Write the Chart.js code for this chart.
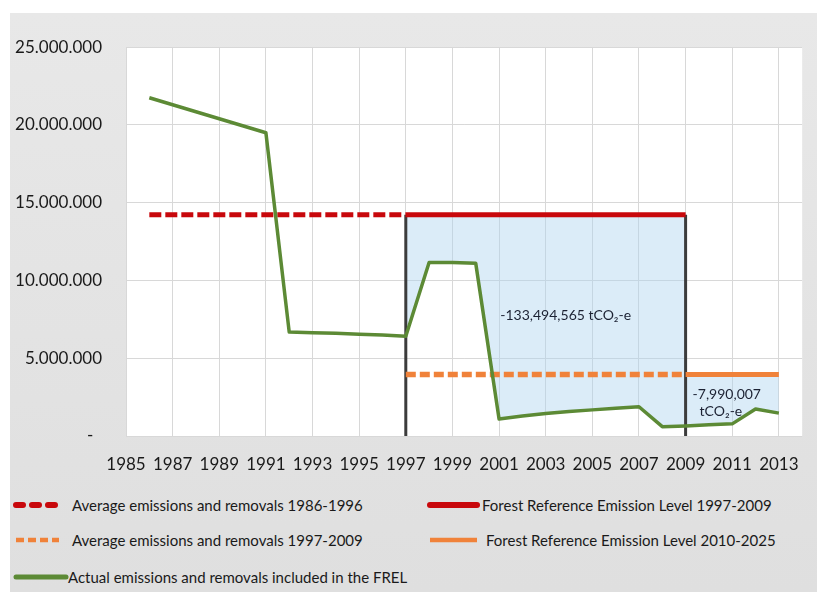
<!DOCTYPE html>
<html>
<head>
<meta charset="utf-8">
<script src="https://cdn.jsdelivr.net/npm/chart.js@4/dist/chart.umd.min.js"></script>
<style>
body { margin: 0; background: #fff; width: 817px; height: 592px; overflow: hidden; font-family: Lato, sans-serif; }
.panel { position: absolute; left: 10px; top: 13px; width: 807px; height: 579px; background: linear-gradient(#e8e8e8, #dfdfdf); }
.wrap { position: absolute; left: 0; top: 0; width: 807px; height: 470px; }
.lg { position: absolute; font-size: 15px; color: #1a1a1a; white-space: nowrap; line-height: 18px; }
.mk { position: absolute; }
</style>
</head>
<body>
<div class="panel" id="panel">
  <div class="wrap"><canvas id="chart"></canvas></div>
</div>
<script>
// data
const years = [1986, 1987, 1988, 1989, 1990, 1991, 1992, 1993, 1994, 1995, 1996, 1997, 1998, 1999,
  2000, 2001, 2002, 2003, 2004, 2005, 2006, 2007, 2008, 2009, 2010, 2011, 2012, 2013]
const actual = [21750000, 21300000, 20850000, 20400000, 19950000, 19500000, 6680000, 6640000, 6600000,
  6550000, 6500000, 6420000, 11150000, 11150000, 11100000, 1100000, 1280000, 1450000, 1570000,
  1680000, 1780000, 1880000, 600000, 650000, 720000, 780000, 1730000, 1470000]
const avg8696 = 14220000
const frel9709 = 14220000
const avg9709 = 3960000
const frel1025 = 3960000
const xTicks = [1985, 1987, 1989, 1991, 1993, 1995, 1997, 1999, 2001, 2003, 2005, 2007, 2009, 2011, 2013]
const seriesNames = [
  'Average emissions and removals 1986-1996',
  'Forest Reference Emission Level 1997-2009',
  'Average emissions and removals 1997-2009',
  'Forest Reference Emission Level 2010-2025',
  'Actual emissions and removals included in the FREL'
]
const notes = [
  { x: 2001.05, y: 7760000, text: '-133,494,565 tCO\u2082-e' },
  { x: 2009.3, y: 2650000, text: '-7,990,007' },
  { x: 2009.6, y: 1550000, text: 'tCO\u2082-e' }
]

const pts = (from, to) => years.map((yr, i) => ({ x: yr, y: actual[i] })).filter(p => p.x >= from && p.x <= to)
const flat = (x1, x2, v) => [{ x: x1, y: v }, { x: x2, y: v }]

const RED = '#c8080c'
const ORANGE = '#f0823a'
const GREEN = '#5c8a35'
const FILL = 'rgba(175, 212, 240, 0.45)'

const fmt = v => v === 0 ? '-  ' : String(v).replace(/\B(?=(\d{3})+(?!\d))/g, '.')

const bgPlugin = {
  id: 'bg',
  beforeDraw(c) {
    const a = c.chartArea
    c.ctx.save()
    c.ctx.fillStyle = '#fff'
    c.ctx.fillRect(a.left, a.top, a.right - a.left, a.bottom - a.top)
    c.ctx.restore()
  }
}
const notePlugin = {
  id: 'notes',
  afterDatasetsDraw(c) {
    const ctx = c.ctx
    ctx.save()
    ctx.font = '14px Lato'
    ctx.fillStyle = '#1c2233'
    ctx.textBaseline = 'middle'
    notes.forEach(n => {
      ctx.fillText(n.text, c.scales.x.getPixelForValue(n.x), c.scales.y.getPixelForValue(n.y))
    })
    ctx.restore()
  }
}

Chart.defaults.font.family = 'Lato'
Chart.defaults.color = '#1a1a1a'

new Chart(document.getElementById('chart'), {
  type: 'line',
  data: {
    datasets: [
      { label: 'fill1', data: pts(1997, 2009), borderWidth: 0, backgroundColor: FILL, fill: { value: frel9709 }, order: 20 },
      { label: 'fill2', data: pts(2009, 2013), borderWidth: 0, backgroundColor: FILL, fill: { value: frel1025 }, order: 20 },
      { label: 'v1997', data: [{ x: 1997, y: 0 }, { x: 1997, y: frel9709 }], borderColor: '#3c3c3c', borderWidth: 3, order: 10 },
      { label: 'v2009', data: [{ x: 2009, y: 0 }, { x: 2009, y: frel9709 }], borderColor: '#3c3c3c', borderWidth: 3, order: 10 },
      { label: seriesNames[0], data: flat(1986, 1997, avg8696), borderColor: RED, borderWidth: 5, borderDash: [12, 4], order: 4 },
      { label: seriesNames[1], data: flat(1997, 2009, frel9709), borderColor: RED, borderWidth: 5, order: 4 },
      { label: seriesNames[2], data: flat(1997, 2009, avg9709), borderColor: ORANGE, borderWidth: 5.5, borderDash: [10, 4], order: 3 },
      { label: seriesNames[3], data: flat(2009, 2013, frel1025), borderColor: ORANGE, borderWidth: 5, order: 3 },
      { label: seriesNames[4], data: pts(1986, 2013), borderColor: GREEN, borderWidth: 3.5, order: 1 }
    ]
  },
  options: {
    responsive: true, maintainAspectRatio: false, animation: false,
    elements: { point: { radius: 0 }, line: { tension: 0, fill: false, borderJoinStyle: 'round' } },
    layout: { padding: { top: 34, right: 12, left: 0, bottom: 0 } },
    plugins: { legend: { display: false }, tooltip: { enabled: false } },
    scales: {
      x: {
        type: 'linear', min: 1985, max: 2014,
        afterBuildTicks: s => { s.ticks = xTicks.map(v => ({ value: v })) },
        afterFit: s => { s.height = 47 },
        grid: { color: '#d8d8d8', drawTicks: false },
        border: { display: false },
        ticks: { autoSkip: false, maxRotation: 0, padding: 18, font: { size: 17 }, callback: v => String(v) }
      },
      y: {
        min: 0, max: 25000000,
        afterFit: s => { s.width = 116 },
        grid: { color: '#d8d8d8', drawTicks: false },
        border: { display: false },
        ticks: { stepSize: 5000000, padding: 24, font: { size: 17 }, callback: v => fmt(v) }
      }
    }
  },
  plugins: [bgPlugin, notePlugin]
})

// legend, built as html
const legendLook = [
  { color: RED, dash: '7 9', width: 6, cap: 'round', mx: 2, mw: 50, tx: 62, y: 492 },
  { color: RED, dash: '', width: 6, cap: 'round', mx: 416, mw: 54, tx: 472, y: 492 },
  { color: ORANGE, dash: '8 4', width: 4.5, cap: 'butt', mx: 2, mw: 50, tx: 62, y: 527 },
  { color: ORANGE, dash: '', width: 4.5, cap: 'butt', mx: 416, mw: 54, tx: 476, y: 527 },
  { color: GREEN, dash: '', width: 5, cap: 'round', mx: 2, mw: 57, tx: 58, y: 564 }
]
const panel = document.getElementById('panel')
seriesNames.forEach((name, i) => {
  const l = legendLook[i]
  const mk = document.createElementNS('http://www.w3.org/2000/svg', 'svg')
  mk.setAttribute('class', 'mk')
  mk.setAttribute('width', l.mw)
  mk.setAttribute('height', 10)
  mk.style.left = l.mx + 'px'
  mk.style.top = (l.y - 5) + 'px'
  mk.innerHTML = '<line x1="4" y1="5" x2="' + (l.mw - 3) + '" y2="5" stroke="' + l.color + '" stroke-width="' + l.width +
    '" stroke-linecap="' + l.cap + '"' + (l.dash ? ' stroke-dasharray="' + l.dash + '"' : '') + '/>'
  panel.appendChild(mk)
  const t = document.createElement('div')
  t.className = 'lg'
  t.textContent = name
  t.style.left = l.tx + 'px'
  t.style.top = (l.y - 9) + 'px'
  panel.appendChild(t)
})
</script>
</body>
</html>
